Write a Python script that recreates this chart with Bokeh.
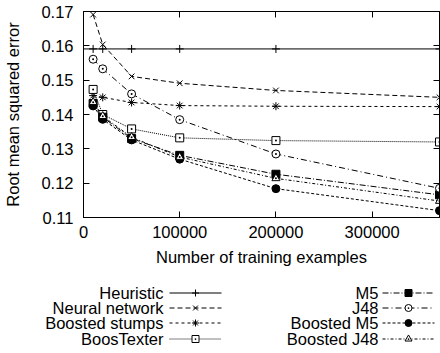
from bokeh.plotting import figure
from bokeh.layouts import column
from bokeh.models import (Range1d, LinearAxis, FixedTicker, NumeralTickFormatter, Span)
from bokeh.core.properties import value
from bokeh.embed import file_html
from bokeh.resources import INLINE

# Training-set sizes and RMSE of each learner
examples = [10000, 20000, 50000, 100000, 200000, 370000]
heuristic = [0.1591, 0.1591, 0.1591, 0.1591, 0.1591, 0.1591]
neural_network = [0.1691, 0.1604, 0.1511, 0.1491, 0.1470, 0.1450]
boosted_stumps = [0.1455, 0.1450, 0.1435, 0.1426, 0.1424, 0.1423]
boostexter = [0.1473, 0.1400, 0.1358, 0.1332, 0.1324, 0.1320]
m5 = [0.1432, 0.1392, 0.1330, 0.1281, 0.1226, 0.1166]
j48 = [0.1561, 0.1533, 0.1460, 0.1385, 0.1285, 0.1185]
boosted_m5 = [0.1425, 0.1386, 0.1326, 0.1270, 0.1184, 0.1120]
boosted_j48 = [0.1436, 0.1395, 0.1334, 0.1276, 0.1214, 0.1148]

x_ticks = [0, 100000, 200000, 300000]
y_ticks = [0.11, 0.12, 0.13, 0.14, 0.15, 0.16, 0.17]

FONT = "Liberation Sans"
FS = "16.5px"

# (label, values, dash, marker, filled)
series = [
    ("Heuristic", heuristic, "solid", "cross", False),
    ("Neural network", neural_network, "5 3", "x", False),
    ("Boosted stumps", boosted_stumps, "3 3", "asterisk", False),
    ("BoosTexter", boostexter, "1 1", "square_dot", False),
    ("M5", m5, "6 2 1 2", "square", True),
    ("J48", j48, "6 3 1 3", "circle_dot", False),
    ("Boosted M5", boosted_m5, "3 2", "circle", True),
    ("Boosted J48", boosted_j48, "3 2 1 2", "triangle_dot", False),
]

p = figure(width=440, height=268, output_backend="svg", toolbar_location=None,
           x_range=Range1d(0, 370000), y_range=Range1d(0.11, 0.17),
           min_border_left=83, min_border_right=1, min_border_top=11,
           min_border_bottom=51, x_axis_type=None, y_axis_type=None,
           frame_align=False)
p.outline_line_color = "black"
p.outline_line_width = 1
p.grid.visible = False
p.background_fill_color = "white"
p.border_fill_color = "white"


def style_axis(ax, ticks, labels=True):
    ax.ticker = FixedTicker(ticks=ticks)
    ax.major_tick_in = 6
    ax.major_tick_out = 0
    ax.minor_tick_line_color = None
    ax.axis_line_color = "black"
    ax.major_tick_line_color = "black"
    ax.major_label_text_font = FONT
    ax.axis_label_text_font = FONT
    ax.axis_label_text_font_style = "normal"
    ax.axis_label_text_color = "black"
    if labels:
        ax.major_label_text_color = "black"
        ax.major_label_text_font_size = FS
        ax.axis_label_text_font_size = FS
    else:
        # mirror axis: tick marks only
        ax.major_label_text_color = None
        ax.major_label_text_font_size = "0px"
        ax.major_label_standoff = 0


xb = LinearAxis(axis_label="Number of training examples",
                formatter=NumeralTickFormatter(format="0"))
style_axis(xb, x_ticks)
xb.major_label_standoff = 8
xb.axis_label_standoff = 7
p.add_layout(xb, "below")

yl = LinearAxis(axis_label="Root mean squared error",
                formatter=NumeralTickFormatter(format="0.00"))
style_axis(yl, y_ticks)
yl.major_label_standoff = 10
yl.axis_label_standoff = 16
p.add_layout(yl, "left")

xt = LinearAxis()
style_axis(xt, x_ticks, labels=False)
p.add_layout(xt, "above")

yr = LinearAxis()
style_axis(yr, y_ticks, labels=False)
p.add_layout(yr, "right")

# Heuristic baseline spans the whole range
p.add_layout(Span(location=heuristic[0], dimension="width",
                  line_color="black", line_width=1))

for name, ys, dash, marker, filled in series:
    if name != "Heuristic":
        p.line(examples, ys, line_color="black", line_width=1, line_dash=dash)
    p.scatter(examples, ys, marker=marker, size=8, line_color="black",
              line_width=1, fill_color="black" if filled else "white")

# Key below the chart in page-pixel coordinates: label on the left,
# line sample with marker on the right
leg = figure(width=440, height=85, output_backend="svg", toolbar_location=None,
             x_range=Range1d(0, 440), y_range=Range1d(85, 0), min_border=0,
             x_axis_type=None, y_axis_type=None, frame_align=False)
leg.outline_line_color = None
leg.grid.visible = False

cols = [(163, 169, 221), (378, 382, 434)]
row_y = [24.5, 39.5, 54.5, 70.5]
for i, (name, ys, dash, marker, filled) in enumerate(series):
    tx, x0, x1 = cols[i // 4]
    y = row_y[i % 4]
    leg.text([tx], [y], text=[name], text_align="right", text_baseline="middle",
             text_font=value(FONT), text_font_size=value(FS), text_color="black")
    leg.line([x0, x1], [y, y], line_color="black", line_width=1, line_dash=dash)
    leg.scatter([(x0 + x1) / 2], [y], marker=marker, size=7, line_color="black",
                line_width=1, fill_color="black" if filled else "white")

layout = column(p, leg, spacing=0)
open("out.html", "w").write(file_html(layout, INLINE))
